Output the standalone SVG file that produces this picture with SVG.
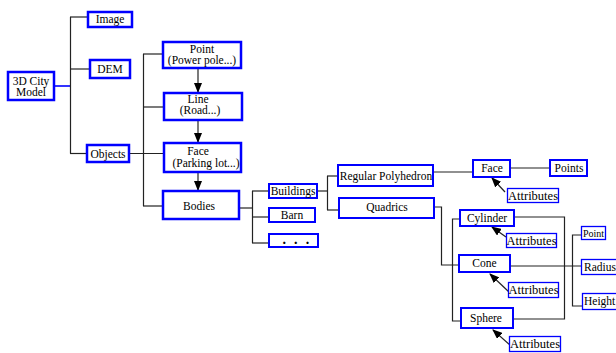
<svg xmlns="http://www.w3.org/2000/svg" width="616" height="353" viewBox="0 0 616 353">
<defs>
<marker id="ah" markerUnits="userSpaceOnUse" markerWidth="10" markerHeight="8" refX="9" refY="4" orient="auto">
<path d="M0,0 L10,4 L0,8 Z" fill="#000"/>
</marker>
<style>
.b3{fill:#fff;stroke:#0000ff;stroke-width:2.5}
.b2{fill:#fff;stroke:#0000ff;stroke-width:2}
.b1{fill:#fff;stroke:#0000ff;stroke-width:1.3}
text{font-family:"Liberation Serif","Times New Roman",serif;font-size:11.5px;fill:#000;text-anchor:middle}
.c line,.c polyline{stroke:#222;stroke-width:1.2;fill:none}
.c .ar{marker-end:url(#ah)}
</style>
</defs>
<rect width="616" height="353" fill="#fff"/>
<g class="c" id="connectors">
<line x1="55" y1="86" x2="71" y2="86" style="stroke:#0000ff;stroke-width:1.6"/>
<line x1="70.5" y1="17" x2="70.5" y2="153.5"/>
<line x1="70" y1="17" x2="88" y2="17"/>
<line x1="70" y1="69" x2="90" y2="69"/>
<line x1="70" y1="153.5" x2="87" y2="153.5"/>
<line x1="129" y1="153.5" x2="164" y2="153.5"/>
<line x1="143.5" y1="54" x2="143.5" y2="206"/>
<line x1="143" y1="54" x2="163" y2="54"/>
<line x1="143" y1="107" x2="164" y2="107"/>
<line x1="143" y1="206" x2="163" y2="206"/>
<line class="ar" x1="198" y1="69" x2="198" y2="92"/>
<line class="ar" x1="198" y1="121" x2="198" y2="142"/>
<line class="ar" x1="198" y1="173" x2="198" y2="190"/>
<line x1="240" y1="208" x2="252" y2="208"/>
<line x1="252.5" y1="191" x2="252.5" y2="243"/>
<line x1="252" y1="191" x2="269" y2="191"/>
<line x1="252" y1="217" x2="269" y2="217"/>
<line x1="252" y1="243" x2="269" y2="243"/>
<line x1="317" y1="191" x2="327" y2="191"/>
<line x1="327.5" y1="176" x2="327.5" y2="210"/>
<line x1="327" y1="176" x2="338" y2="176"/>
<line x1="327" y1="210" x2="339" y2="210"/>
<line x1="433" y1="172" x2="473" y2="172"/>
<line x1="510" y1="168" x2="550" y2="168"/>
<polyline points="434,207 441.5,207 441.5,265 459,265"/>
<polyline points="460,219 452.5,219 452.5,321 461,321"/>
<polyline points="514,217 564.5,217 564.5,319 513,319"/>
<line x1="510" y1="266" x2="582" y2="266"/>
<polyline points="582,235 572.5,235 572.5,306 583,306"/>
<line class="ar" x1="505" y1="192" x2="492" y2="178"/>
<line class="ar" x1="506" y1="237" x2="492" y2="227"/>
<line class="ar" x1="509" y1="292" x2="490" y2="274"/>
<line class="ar" x1="510" y1="345" x2="493" y2="330"/>
</g>
<g id="n-city"><rect class="b3" x="8" y="72" width="46" height="28"/><text x="31" y="85">3D City</text><text x="31" y="96">Model</text></g>
<g id="n-image"><rect class="b3" x="88" y="12" width="44" height="15"/><text x="110" y="23">Image</text></g>
<g id="n-dem"><rect class="b3" x="90" y="60" width="40" height="18"/><text x="110" y="73">DEM</text></g>
<g id="n-objects"><rect class="b3" x="87" y="145" width="42" height="17"/><text x="108" y="157.5">Objects</text></g>
<g id="n-point"><rect class="b3" x="163" y="42" width="78" height="26"/><text x="202" y="53">Point</text><text x="202" y="64">(Power pole...)</text></g>
<g id="n-line"><rect class="b3" x="164" y="93" width="78" height="27"/><text x="198" y="103">Line</text><text x="200" y="114">(Road...)</text></g>
<g id="n-face"><rect class="b3" x="164" y="143" width="77" height="29"/><text x="198" y="155">Face</text><text x="206" y="167">(Parking lot...)</text></g>
<g id="n-bodies"><rect class="b3" x="163" y="191" width="76" height="28"/><text x="199" y="210">Bodies</text></g>
<g id="n-buildings"><rect class="b2" x="269" y="184" width="48" height="14"/><text x="293" y="195">Buildings</text></g>
<g id="n-barn"><rect class="b2" x="269" y="208" width="46" height="14"/><text x="292" y="219">Barn</text></g>
<g id="n-more"><rect class="b2" x="269" y="234" width="49" height="13"/><text x="282.5" y="243.5" style="font-weight:bold;font-size:14px;text-anchor:start;letter-spacing:2.3px">. . .</text></g>
<g id="n-polyhedron"><rect class="b2" x="338" y="165" width="95" height="21"/><text x="386" y="179.5">Regular Polyhedron</text></g>
<g id="n-quadrics"><rect class="b2" x="339" y="198" width="95" height="20"/><text x="387" y="210.5">Quadrics</text></g>
<g id="n-face2"><rect class="b2" x="473" y="160" width="37" height="17"/><text x="492" y="172">Face</text></g>
<g id="n-points"><rect class="b2" x="550" y="160" width="37" height="16"/><text x="569" y="172">Points</text></g>
<g id="n-attr1"><rect class="b1" x="507.5" y="188.5" width="51" height="14"/><text x="533" y="199.5" style="font-size:12.5px">Attributes</text></g>
<g id="n-cylinder"><rect class="b2" x="460" y="210" width="54" height="16"/><text x="487" y="221.5">Cylinder</text></g>
<g id="n-attr2"><rect class="b1" x="506.5" y="233.5" width="50" height="14"/><text x="531.5" y="244.5" style="font-size:12.5px">Attributes</text></g>
<g id="n-point2"><rect class="b1" x="581.5" y="226.5" width="24" height="13"/><text x="593.5" y="236.5" style="font-size:10px">Point</text></g>
<g id="n-cone"><rect class="b2" x="459" y="255" width="51" height="17"/><text x="484.5" y="267">Cone</text></g>
<g id="n-radius"><rect class="b1" x="581.5" y="259.5" width="40" height="15"/><text x="584" y="270.5" style="text-anchor:start">Radius</text></g>
<g id="n-attr3"><rect class="b1" x="508.5" y="282.5" width="50" height="15"/><text x="533.5" y="294" style="font-size:12.5px">Attributes</text></g>
<g id="n-height"><rect class="b1" x="582.5" y="293.5" width="40" height="16"/><text x="584" y="305" style="text-anchor:start">Height</text></g>
<g id="n-sphere"><rect class="b2" x="461" y="308" width="52" height="20"/><text x="486" y="322">Sphere</text></g>
<g id="n-attr4"><rect class="b1" x="509.5" y="336.5" width="51" height="15"/><text x="535" y="348" style="font-size:12.5px">Attributes</text></g>
</svg>
